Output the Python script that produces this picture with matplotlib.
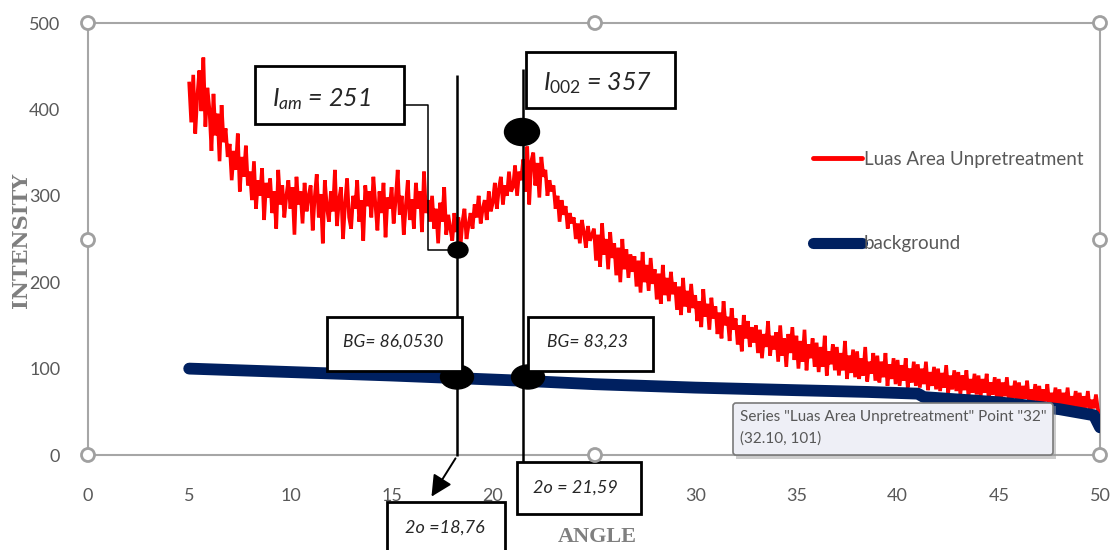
import numpy as np
import matplotlib
matplotlib.use("Agg")
import matplotlib.pyplot as plt
from matplotlib.transforms import Affine2D
from matplotlib.patches import Rectangle, Ellipse, Circle, FancyBboxPatch, FancyArrowPatch

# ---------------- data ----------------
angle_start, angle_step = 5.0, 0.1
intensity = [
    430, 385, 440, 372, 415, 445, 398, 460, 380, 425,
    400, 352, 418, 370, 395, 340, 405, 362, 378, 345,
    360, 318, 352, 330, 372, 305, 345, 322, 358, 312,
    328, 295, 340, 285, 318, 300, 332, 272, 315, 298,
    320, 280, 305, 262, 330, 290, 312, 275, 300, 318,
    285, 310, 255, 322, 290, 305, 268, 315, 282, 300,
    312, 260, 298, 325, 275, 302, 245, 318, 288, 270,
    305, 282, 330, 265, 295, 310, 250, 290, 320, 275,
    262, 300, 285, 318, 270, 295, 248, 312, 288, 305,
    275, 322, 290, 260, 305, 280, 315, 252, 298, 285,
    310, 268, 295, 330, 278, 300, 255, 288, 318, 272,
    296, 262, 315, 285, 305, 258, 328, 280, 295, 270,
    300, 262, 285, 245, 292, 270, 310, 255, 278, 262,
    248, 280, 258, 275, 240, 270, 285, 250, 266, 280,
    262, 290, 275, 300, 268, 285, 295, 272, 305, 282,
    292, 315, 285, 308, 322, 290, 312, 300, 328, 305,
    310, 335, 300, 328, 318, 342, 305, 357, 290, 340,
    350, 312, 338, 298, 345, 322, 330, 300, 318, 305,
    312, 285, 300, 270, 295, 278, 288, 262, 280, 268,
    275, 250, 268, 245, 272, 258, 240, 265, 248, 255,
    262, 225, 255, 218, 268, 232, 250, 215, 258, 228,
    245, 208, 240, 200, 250, 215, 238, 205, 232, 212,
    230, 195, 225, 188, 235, 200, 220, 190, 228, 198,
    215, 180, 210, 175, 220, 185, 205, 178, 212, 186,
    200, 168, 195, 162, 205, 172, 190, 165, 198, 170,
    185, 155, 178, 148, 192, 160, 175, 145, 182, 158,
    172, 140, 165, 135, 178, 150, 160, 132, 170, 145,
    158, 128, 150, 120, 162, 135, 155, 125, 148, 130,
    150, 118, 145, 112, 140, 125, 155, 115, 138, 122,
    142, 108, 150, 115, 135, 102, 140, 118, 148, 110,
    138, 100, 132, 108, 145, 98, 128, 112, 135, 102,
    130, 96, 125, 102, 138, 92, 120, 105, 128, 98,
    125, 92, 118, 98, 132, 88, 115, 95, 122, 90,
    120, 88, 112, 92, 125, 85, 108, 94, 118, 86,
    115, 84, 108, 90, 118, 80, 105, 88, 112, 82,
    110, 80, 104, 86, 112, 78, 100, 84, 108, 80,
    105, 78, 100, 82, 108, 75, 96, 80, 102, 76,
    100, 74, 95, 78, 104, 72, 92, 76, 98, 74,
    96, 70, 92, 75, 98, 68, 88, 72, 94, 70,
    92, 67, 88, 72, 94, 65, 84, 70, 90, 66,
    88, 64, 84, 68, 90, 62, 80, 66, 86, 63,
    84, 61, 80, 65, 86, 59, 76, 63, 82, 60,
    80, 58, 76, 62, 82, 56, 72, 60, 78, 58,
    76, 55, 72, 58, 78, 54, 68, 57, 74, 55,
    72, 52, 68, 55, 74, 51, 64, 54, 70, 52,
    50,
]
angle = np.round(angle_start + angle_step * np.arange(len(intensity)), 1)

bg_angle = [5, 10, 15, 18.2, 21.4, 25, 30, 35, 38.5, 41.0, 41.3, 45, 48, 49.7, 50]
bg_intensity = [100, 96, 92, 89, 86, 82, 78, 75, 73, 71, 67, 61, 53, 46, 32]

x_ticks = [0, 5, 10, 15, 20, 25, 30, 35, 40, 45, 50]
# the "25" label is hidden behind the 2θ = 21,59 call-out in the reference
x_tick_labels = ["0", "5", "10", "15", "20", "", "30", "35", "40", "45", "50"]
y_ticks = [0, 100, 200, 300, 400, 500]
series_names = ["Luas Area Unpretreatment", "background"]

# ---------------- figure ----------------
W, H = 1120, 550
fig = plt.figure(figsize=(W / 100, H / 100), dpi=100)
ax = fig.add_axes([88 / W, 95 / H, 1012 / W, 432 / H])
pix = Affine2D().scale(1 / W, -1 / H).translate(0, 1) + fig.transFigure

GRAY_TXT = "#595959"
SPINE = "#a6a6a6"
FONT = "Lato"

red_line, = ax.plot(angle, intensity, color="#ff0000", lw=2.6, zorder=3,
                    solid_joinstyle="miter", label=series_names[0])
blue_line, = ax.plot(bg_angle, bg_intensity, color="#002060", lw=8.5, zorder=4,
                     solid_capstyle="round", solid_joinstyle="round",
                     label=series_names[1])

ax.set_xlim(0, 50)
ax.set_ylim(0, 500)
ax.set_xticks(x_ticks)
ax.set_xticklabels(x_tick_labels)
ax.set_yticks(y_ticks)
ax.tick_params(length=0, labelsize=13, labelcolor=GRAY_TXT)
ax.tick_params(axis="x", pad=24)
ax.tick_params(axis="y", pad=20)
for lab in ax.get_xticklabels() + ax.get_yticklabels():
    lab.set_fontfamily(FONT)
for sp in ax.spines.values():
    sp.set_color(SPINE)
    sp.set_linewidth(1.5)

# axis titles
fig.text(21 / W, 1 - 240 / H, "INTENSITY", rotation=90, ha="center", va="center",
         fontsize=15, fontweight="bold", family="DejaVu Serif", color="#7f7f7f")
fig.text(597 / W, 1 - 537 / H, "ANGLE", ha="center", va="center",
         fontsize=16, fontweight="bold", family="Liberation Serif", color="#7f7f7f")

# legend
leg = ax.legend(handles=[red_line, blue_line], loc="upper left",
                bbox_to_anchor=(813 / W, 1 - 151 / H), bbox_transform=fig.transFigure,
                frameon=False, labelspacing=3.6, handlelength=2.6,
                handletextpad=0.1, borderpad=0, borderaxespad=0,
                prop={"family": FONT, "size": 13.5})
for t in leg.get_texts():
    t.set_color(GRAY_TXT)
leg.get_lines()[0].set_linewidth(3.5)
leg.get_lines()[0].set_solid_capstyle("round")
leg.get_lines()[1].set_linewidth(8)

# ---------------- annotations (in reference pixel coords) ----------------
plt.rcParams["mathtext.fontset"] = "custom"
plt.rcParams["mathtext.it"] = "Lato:italic"
plt.rcParams["mathtext.rm"] = "Lato"

def px_line(xs, ys, lw=1.8, color="black", z=6):
    ax.plot(xs, ys, transform=pix, color=color, lw=lw, clip_on=False, zorder=z,
            solid_capstyle="butt")

def px_box(x0, y0, x1, y1, z=7):
    ax.add_patch(Rectangle((x0, y1), x1 - x0, y0 - y1, transform=pix, fill=True,
                           facecolor="white", edgecolor="black", lw=2.0,
                           clip_on=False, zorder=z))

def px_text(x, y, s, size, ha="left", z=8):
    ax.text(x, y, s, transform=pix, fontsize=size, family=FONT, style="italic",
            color="#262626", ha=ha, va="center", clip_on=False, zorder=z)

# vertical lines
px_line([457, 457], [75, 456])
px_line([523, 523], [69, 462])
# arrow from line 1 to lower box
ax.add_patch(FancyArrowPatch((457, 456), (430, 499), transform=pix,
                             arrowstyle="-|>,head_length=8,head_width=4",
                             mutation_scale=1.6, color="black", lw=1.4,
                             clip_on=False, zorder=6))
# I_am connector
px_line([405, 428, 428, 450], [105, 105, 250, 250], lw=1.1)

# ellipses
for (cx, cy, w, h) in [(457, 377, 33, 24), (528, 377, 33, 24),
                       (522, 132, 35, 27), (458, 250, 20, 16)]:
    ax.add_patch(Ellipse((cx, cy), w, h, transform=pix, color="black",
                         clip_on=False, zorder=7))

# boxes
px_box(255, 66, 404, 124)
px_text(272, 99, r"$I_{am}$ = 251", 18)
px_box(526, 52, 675, 108)
px_text(543, 83, r"$I_{002}$ = 357", 18)
px_box(327, 317, 462, 371)
px_text(343, 342, "BG= 86,0530", 12.5)
px_box(528, 317, 653, 371)
px_text(547, 342, "BG= 83,23", 12.5)
px_box(517, 462, 641, 514)
px_text(533, 488, "2o = 21,59", 13)
px_box(387, 502, 505, 560)
px_text(405, 528, "2o =18,76", 13)

# selection handles
for (cx, cy) in [(88, 23), (595, 23), (1100, 23), (88, 240), (1100, 240),
                 (88, 455), (595, 455), (1100, 455)]:
    ax.add_patch(Circle((cx, cy), 6.5, transform=pix, facecolor="white",
                        edgecolor="#a0a0a0", lw=2, clip_on=False, zorder=9))

# tooltip
ax.add_patch(Rectangle((736, 406), 320, 53, transform=pix, facecolor="#9a9a9a",
                       alpha=0.5, edgecolor="none", clip_on=False, zorder=10))
ax.add_patch(FancyBboxPatch((733, 403), 320, 52,
                            boxstyle="round,pad=0,rounding_size=3", transform=pix,
                            facecolor="#eeeff6", edgecolor="#7a7a7a", lw=1.2,
                            clip_on=False, zorder=11))
ax.text(740, 417, 'Series "Luas Area Unpretreatment" Point "32"', transform=pix,
        fontsize=11, family=FONT, color="#575757", ha="left", va="center",
        clip_on=False, zorder=12)
ax.text(740, 439, "(32.10, 101)", transform=pix, fontsize=11, family=FONT,
        color="#575757", ha="left", va="center", clip_on=False, zorder=12)

fig.savefig("out.png", dpi=100)
